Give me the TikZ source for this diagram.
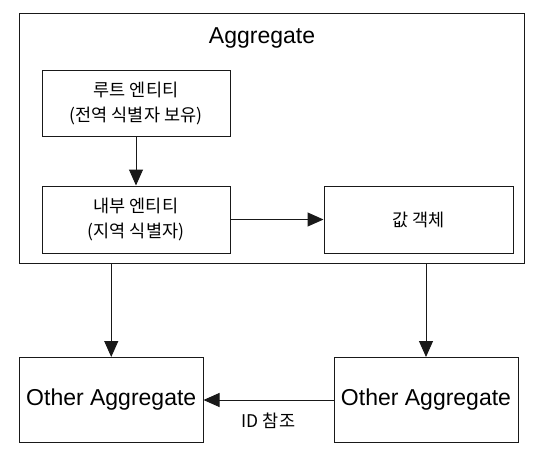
\documentclass[tikz,border=0pt]{standalone}
\usepackage{fontspec}
\setmainfont{Liberation Sans}
\newfontfamily\kr{Noto Sans CJK KR}
\usepackage{tikz}
\usetikzlibrary{arrows.meta}
\tikzstyle{box} = [draw=black!90, line width=1pt, rectangle, inner sep=0pt, align=center]
\tikzstyle{bigtext} = [font=\fontsize{23}{27}\selectfont]
\tikzstyle{krtext} = [font=\kr\fontsize{17.5}{25}\selectfont]
\tikzstyle{arrow} = [line width=1pt, draw=black!90, -{Triangle[length=16pt,width=14pt]}]

\begin{document}
\begin{tikzpicture}[x=1pt, y=-1pt]
	\useasboundingbox (0,0) rectangle (538,453);
	\node[box, minimum width=504.5pt, minimum height=250pt] (outer) at (271.75,138) {};
	\node[bigtext] (title) at (262,38) {Aggregate};
	\node[box, krtext, minimum width=188pt, minimum height=66pt] (root) at (136,103) {루트 엔티티\\(전역 식별자 보유)};
	\node[box, krtext, minimum width=188pt, minimum height=67pt] (inner) at (136,219.5) {내부 엔티티\\(지역 식별자)};
	\node[box, krtext, minimum width=189pt, minimum height=67pt] (value) at (418.5,219.5) {값 객체};
	\node[box, bigtext, minimum width=183.5pt, minimum height=85pt] (leftagg) at (111.25,400) {Other Aggregate};
	\node[box, bigtext, minimum width=184pt, minimum height=85pt] (rightagg) at (426,400) {Other Aggregate};
	\draw[arrow] (root) -- (inner);
	\draw[arrow] (inner) -- (value);
	\draw[arrow] (outer.south -| leftagg.north) -- (leftagg.north);
	\draw[arrow] (outer.south -| rightagg.north) -- (rightagg.north);
	\draw[arrow] (rightagg) -- node[krtext, midway, yshift=-21pt] (idref) {ID 참조} (leftagg);
\end{tikzpicture}
\end{document}
